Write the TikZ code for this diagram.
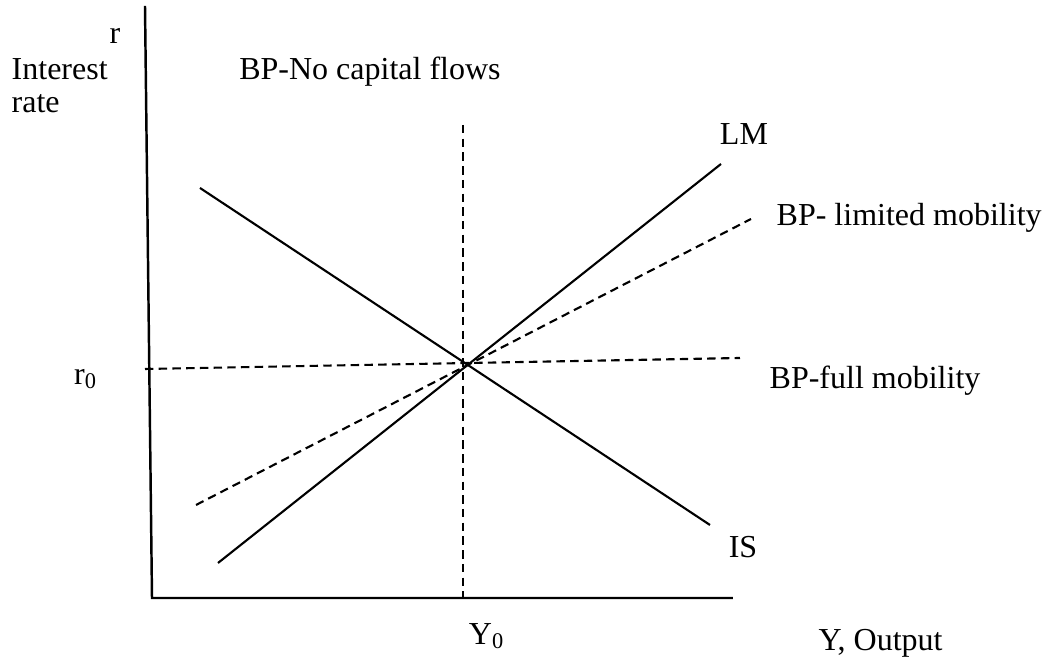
\documentclass[tikz,border=0pt]{standalone}
\usepackage{fontspec}
\setmainfont{Liberation Serif}
\usepackage{tikz}
\usetikzlibrary{positioning}

\tikzset{
  curve/.style={line width=0.6pt},
  bpline/.style={line width=0.6pt, dash pattern=on 2.4pt off 1.5pt},
  lbl/.style={font=\fontsize{9.1}{11}\selectfont, inner sep=0pt}
}

\begin{document}
\begin{tikzpicture}[x=0.01cm, y=-0.01cm]
        \useasboundingbox (0,0) rectangle (1044,662);
        % axes
        \coordinate (ytop) at (145,6);
        \coordinate (orig) at (152,598);
        \coordinate (xend) at (733,598);
        \draw[line width=0.7pt] (ytop) -- (orig) -- (xend);
        % IS and LM
        \coordinate (lmA) at (218,563);
        \coordinate (lmB) at (721,164);
        \coordinate (isA) at (200,188);
        \coordinate (isB) at (710,525);
        \draw[curve] (lmA) -- (lmB);
        \draw[curve] (isA) -- (isB);
        % BP curves
        \coordinate (ncA) at (463,125);
        \coordinate (ncB) at (463,598);
        \coordinate (lmobA) at (196,505);
        \coordinate (lmobB) at (751,219);
        \coordinate (fmobA) at (145,369);
        \coordinate (fmobB) at (740,358);
        \draw[bpline] (ncA) -- (ncB);
        \draw[bpline] (lmobA) -- (lmobB);
        \draw[bpline] (fmobA) -- (fmobB);
        % labels
        \node[lbl] (r) at (115,36) {r};
        \node[lbl, anchor=west] (interest) at (11,69) {Interest};
        \node[lbl, anchor=west] (rate) at (11,104) {rate};
        \node[lbl] (nocap) at (370,72) {BP-No capital flows};
        \node[lbl] (lm) at (744,134) {LM};
        \node[lbl, anchor=west] (limmob) at (776,218) {BP- limited mobility};
        \node[lbl, anchor=west] (fullmob) at (769,381) {BP-full mobility};
        \node[lbl] (rzero) at (86,379) {r\textsubscript{0}};
        \node[lbl] (is) at (743,547) {IS};
        \node[lbl] (yzero) at (487,636) {Y\textsubscript{0}};
        \node[lbl, anchor=west] (yout) at (818,643) {Y, Output};
      \end{tikzpicture}
\end{document}
